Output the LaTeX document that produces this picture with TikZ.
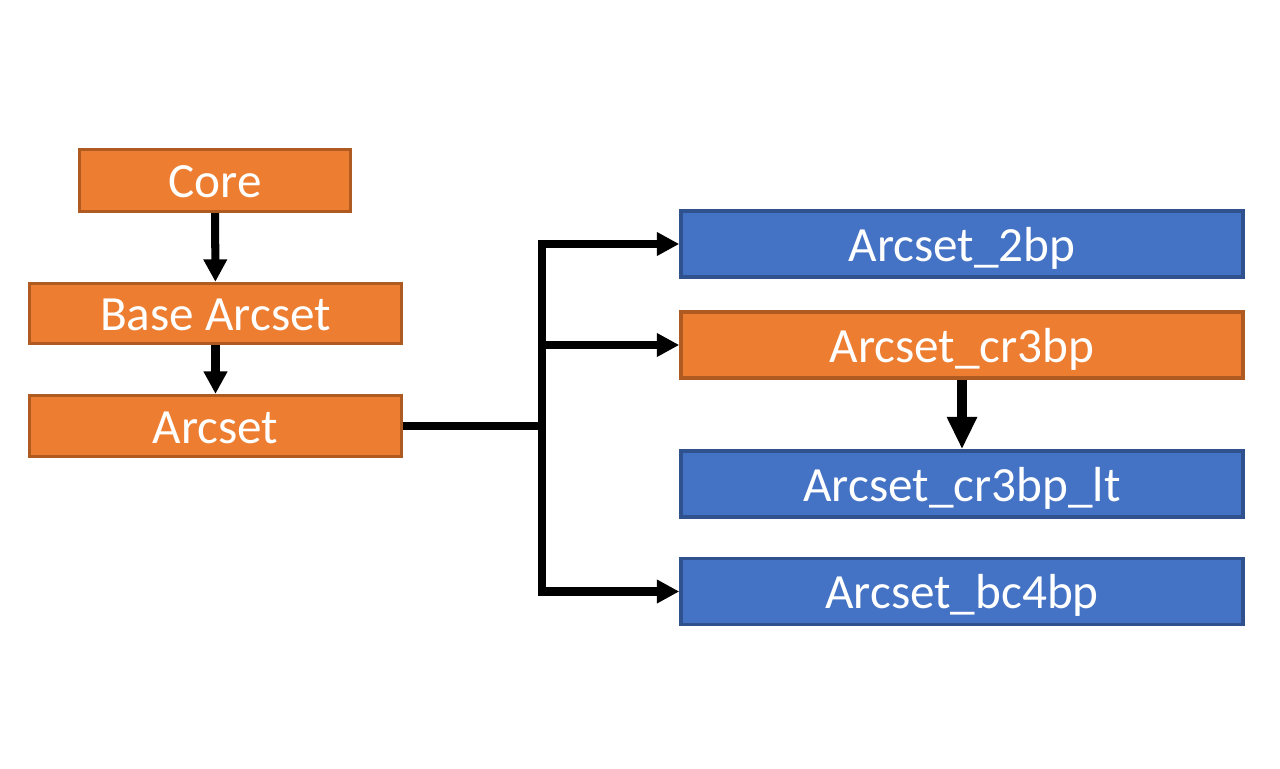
\documentclass[tikz,border=0pt]{standalone}
\usepackage{fontspec}
\setmainfont{Carlito}
\usetikzlibrary{arrows.meta}

\definecolor{boxorange}{HTML}{ED7D31}
\definecolor{edgeorange}{HTML}{AE5A21}
\definecolor{boxblue}{HTML}{4472C4}
\definecolor{edgeblue}{HTML}{2F528F}

\tikzset{
  box/.style={draw, line width=2.4pt, inner sep=0pt, text=white,
    font=\fontsize{35}{42}\selectfont, text height=30pt, text depth=5.7pt},
  orangebox/.style={box, fill=boxorange, draw=edgeorange},
  bluebox/.style={box, fill=boxblue, draw=edgeblue,
    minimum width=14.05cm, minimum height=1.65cm},
  link/.style={line width=5.7pt, -{Triangle[length=16pt,width=16pt]}},
  biglink/.style={line width=7.1pt, -{Triangle[length=23pt,width=20pt]}},
}

\begin{document}
\begin{tikzpicture}[x=0.025cm, y=-0.025cm]

  \useasboundingbox (0,0) rectangle (1280,768);

  % left column
  \node[orangebox, minimum width=6.78cm, minimum height=1.55cm] (core) at (215, 180.5) {Core};
  \node[orangebox, minimum width=9.3cm, minimum height=1.5cm] (base) at (215.5, 313.5) {Base Arcset};
  \node[orangebox, minimum width=9.3cm, minimum height=1.52cm] (arcset) at (215.5, 426) {Arcset};

  % right column
  \node[bluebox] (twobp) at (962, 244) {Arcset\_2bp};
  \node[orangebox, minimum width=14.05cm, minimum height=1.65cm] (crtbp) at (962, 345) {Arcset\_cr3bp};
  \node[bluebox] (crtbplt) at (962, 484) {Arcset\_cr3bp\_lt};
  \node[bluebox] (bcfbp) at (962, 591.5) {Arcset\_bc4bp};

  \coordinate (split) at (541.5, 426);

  \draw[link] (core) -- (base);
  \draw[link] (base) -- (arcset);
  \draw[line width=5.7pt] (arcset.east) -- (split);
  \draw[link] (split) |- (twobp.west);
  \draw[link] (split) |- (crtbp.west);
  \draw[link] (split) |- (bcfbp.west);
  \draw[biglink] (crtbp) -- (crtbplt);

\end{tikzpicture}
\end{document}
